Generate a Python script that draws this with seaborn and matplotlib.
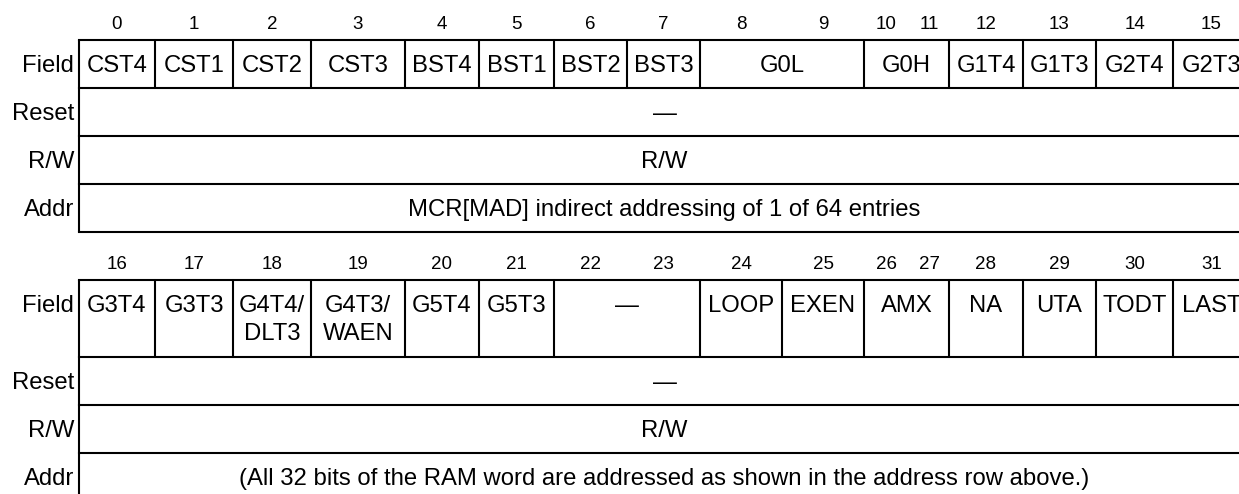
import numpy as np
import matplotlib.pyplot as plt
import seaborn as sns

# register fields, bit 0 on the left
bits_hi = list(range(0, 16))
bits_lo = list(range(16, 32))
names_hi = ["CST4", "CST1", "CST2", "CST3", "BST4", "BST1", "BST2", "BST3",
            "G0L", "G0H", "G1T4", "G1T3", "G2T4", "G2T3"]
span_hi = [1, 1, 1, 1, 1, 1, 1, 1, 2, 2, 1, 1, 1, 1]
names_lo = ["G3T4", "G3T3", "G4T4/\nDLT3", "G4T3/\nWAEN", "G5T4", "G5T3", "—",
            "LOOP", "EXEN", "AMX", "NA", "UTA", "TODT", "LAST"]
span_lo = [1, 1, 1, 1, 1, 1, 2, 1, 1, 2, 1, 1, 1, 1]
row_labels = ["Field", "Reset", "R/W", "Addr"]
rows_hi = ["—", "R/W", "MCR[MAD] indirect addressing of 1 of 64 entries"]
rows_lo = ["—", "R/W",
           "(All 32 bits of the RAM word are addressed as shown in the address row above.)"]

# layout in pixels
slot_w = [76, 78, 78, 94, 74, 75, 73, 73, 82, 82, 45, 40, 74, 73, 77, 77]
x_left = 79
edges = x_left + np.concatenate([[0], np.cumsum(slot_w)])
row_h = 48
line_h = 28
lw = 1.5
FS = 17.2
FS_BIT = 13.5
dy = 1.5  # nudge text down a little, va='center' sits high

sns.set_theme(style="white")
plt.rcParams['font.family'] = ['Liberation Sans', 'DejaVu Sans']

fig = plt.figure(figsize=(12.39, 4.94), dpi=100)
ax = fig.add_axes([0, 0, 1, 1])
ax.set_xlim(0, 1239)
ax.set_ylim(494, 0)
ax.axis('off')


def draw_block(y_top, bits, names, spans, field_h, texts):
    heights = [field_h, row_h, row_h, row_h]
    ys = y_top + np.concatenate([[0], np.cumsum(heights)])
    x_right = edges[-1]
    x_mid = (x_left + x_right) / 2

    for i, b in enumerate(bits):
        ax.text((edges[i] + edges[i + 1]) / 2, y_top - 17 + dy, str(b),
                ha='center', va='center', fontsize=FS_BIT, color='black')

    for y in ys:
        ax.plot([x_left, x_right], [y, y], color='black', lw=lw,
                solid_capstyle='projecting')
    ax.plot([x_left, x_left], [ys[0], ys[-1]], color='black', lw=lw)

    start = 0
    for name, sp in zip(names, spans):
        a, b = edges[start], edges[start + sp]
        if start > 0:
            ax.plot([a, a], [ys[0], ys[1]], color='black', lw=lw)
        for k, part in enumerate(name.split('\n')):
            ax.text((a + b) / 2, y_top + 24 + line_h * k + dy, part,
                    ha='center', va='center', fontsize=FS, color='black')
        start += sp
    ax.plot([edges[start], edges[start]], [ys[0], ys[1]], color='black', lw=lw)

    label_y = [y_top + 24] + [(ys[j] + ys[j + 1]) / 2 for j in range(1, 4)]
    for lab, y in zip(row_labels, label_y):
        ax.text(x_left - 5, y + dy, lab, ha='right', va='center', fontsize=FS,
                color='black')
    for j, t in enumerate(texts):
        ax.text(x_mid, (ys[j + 1] + ys[j + 2]) / 2 + dy, t, ha='center',
                va='center', fontsize=FS, color='black')


draw_block(40, bits_hi, names_hi, span_hi, row_h, rows_hi)
draw_block(280, bits_lo, names_lo, span_lo, 77, rows_lo)

fig.savefig('out.png', dpi=100, facecolor='white')
